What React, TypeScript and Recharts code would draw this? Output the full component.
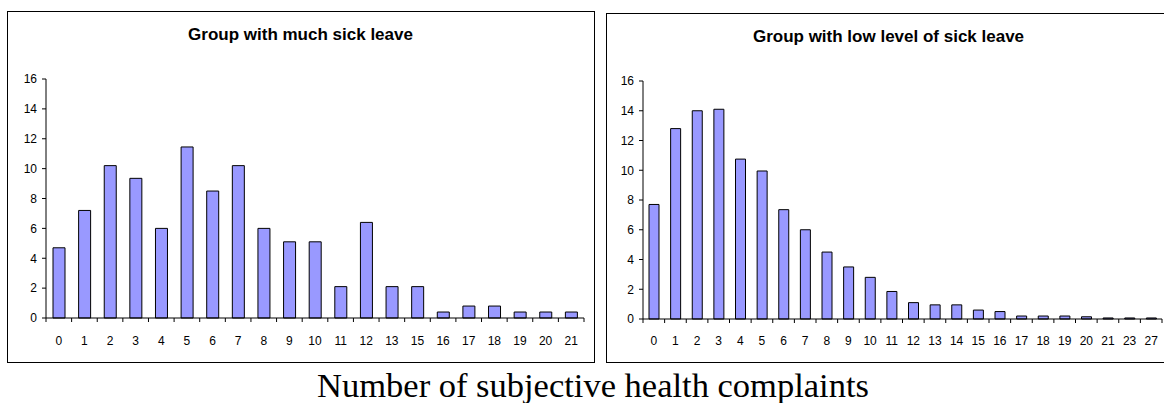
import React from 'react';
import { BarChart, Bar, XAxis, YAxis } from 'recharts';

// much sick leave group
const muchCats = ['0', '1', '2', '3', '4', '5', '6', '7', '8', '9', '10', '11', '12', '13', '15', '16', '17', '18', '19', '20', '21'];
const muchVals = [4.7, 7.2, 10.2, 9.35, 6.0, 11.45, 8.5, 10.2, 6.0, 5.1, 5.1, 2.1, 6.4, 2.1, 2.1, 0.4, 0.8, 0.8, 0.4, 0.4, 0.4];

// low sick leave group
const lowCats = ['0', '1', '2', '3', '4', '5', '6', '7', '8', '9', '10', '11', '12', '13', '14', '15', '16', '17', '18', '19', '20', '21', '23', '27'];
const lowVals = [7.7, 12.8, 14.0, 14.1, 10.75, 9.95, 7.35, 6.0, 4.5, 3.5, 2.8, 1.85, 1.1, 0.95, 0.95, 0.6, 0.5, 0.2, 0.2, 0.2, 0.15, 0.07, 0.07, 0.07];

const yTicks = [0, 2, 4, 6, 8, 10, 12, 14, 16];

const muchData = muchCats.map((k, i) => ({ k, v: muchVals[i] }));
const lowData = lowCats.map((k, i) => ({ k, v: lowVals[i] }));

const FONT = 'Liberation Sans, Arial, sans-serif';

const makeTick = (bw: number, count: number, textOff: number) => (props: any) => {
    const { x, y, payload, index } = props;
    const left = x - bw / 2;
    return (
        <g>
            <line x1={left} x2={left} y1={y} y2={y + 4} stroke="#000" />
            {index === count - 1 && <line x1={x + bw / 2} x2={x + bw / 2} y1={y} y2={y + 4} stroke="#000" />}
            <text x={x} y={y + textOff} dy="0.71em" textAnchor="middle" fontSize={12} fontFamily={FONT} fill="#000">
                {payload.value}
            </text>
        </g>
    );
};

type PanelProps = {
    data: { k: string; v: number }[];
    width: number;
    height: number;
    margin: { top: number; right: number; left: number; bottom: number };
    yWidth: number;
    barSize: number;
    textOff: number;
};

const Panel = ({ data, width, height, margin, yWidth, barSize, textOff }: PanelProps) => {
    const bw = (width - margin.left - margin.right - yWidth) / data.length;
    return (
        <BarChart width={width} height={height} data={data} margin={margin}>
            <XAxis
                dataKey="k"
                interval={0}
                height={30}
                tickSize={0}
                tickMargin={0}
                tickLine={false}
                axisLine={{ stroke: '#000' }}
                tick={makeTick(bw, data.length, textOff)}
            />
            <XAxis xAxisId="t" dataKey="k" orientation="top" height={0} tick={false} tickLine={false} axisLine={{ stroke: '#8c8c8c' }} />
            <YAxis
                domain={[0, 16]}
                ticks={yTicks}
                width={yWidth}
                tickSize={4}
                tickMargin={5}
                tickLine={{ stroke: '#000' }}
                axisLine={{ stroke: '#000' }}
                tick={{ fontSize: 12, fontFamily: FONT, fill: '#000' }}
            />
            <YAxis yAxisId="r" orientation="right" width={0} tick={false} tickLine={false} axisLine={{ stroke: '#8c8c8c' }} />
            <Bar dataKey="v" fill="#9999ff" stroke="#000" strokeWidth={1} barSize={barSize} isAnimationActive={false} />
        </BarChart>
    );
};

const titleStyle: React.CSSProperties = {
    position: 'absolute',
    fontFamily: FONT,
    fontWeight: 'bold',
    fontSize: 17,
    lineHeight: '17px',
    textAlign: 'center',
    whiteSpace: 'nowrap',
};

export default function App() {
    return (
        <div style={{ position: 'absolute', left: 0, top: 0, width: 1164, height: 403, overflow: 'hidden', background: '#fff' }}>
            {/* left panel */}
            <div style={{ position: 'absolute', left: 7, top: 11, width: 586, height: 350, border: '1px solid #000' }} />
            <div style={{ ...titleStyle, left: 7, top: 26, width: 587 }}>Group with much sick leave</div>
            <div style={{ position: 'absolute', left: 7, top: 11 }}>
                <Panel
                    data={muchData}
                    width={587}
                    height={351}
                    margin={{ top: 68, right: 10, left: 0, bottom: 14 }}
                    yWidth={39}
                    barSize={12}
                    textOff={18}
                />
            </div>

            {/* right panel */}
            <div style={{ position: 'absolute', left: 606, top: 13, width: 570, height: 348, border: '1px solid #000' }} />
            <div style={{ ...titleStyle, left: 606, top: 28, width: 565 }}>Group with low level of sick leave</div>
            <div style={{ position: 'absolute', left: 606, top: 13 }}>
                <Panel
                    data={lowData}
                    width={558}
                    height={349}
                    margin={{ top: 68, right: 2, left: 0, bottom: 13 }}
                    yWidth={37}
                    barSize={10}
                    textOff={17}
                />
            </div>

            <div
                style={{
                    position: 'absolute',
                    left: 0,
                    width: 1186,
                    top: 368,
                    fontFamily: 'Liberation Serif, Times New Roman, serif',
                    fontSize: 34.5,
                    lineHeight: '34px',
                    textAlign: 'center',
                    whiteSpace: 'nowrap',
                }}
            >
                Number of subjective health complaints
            </div>
        </div>
    );
}
